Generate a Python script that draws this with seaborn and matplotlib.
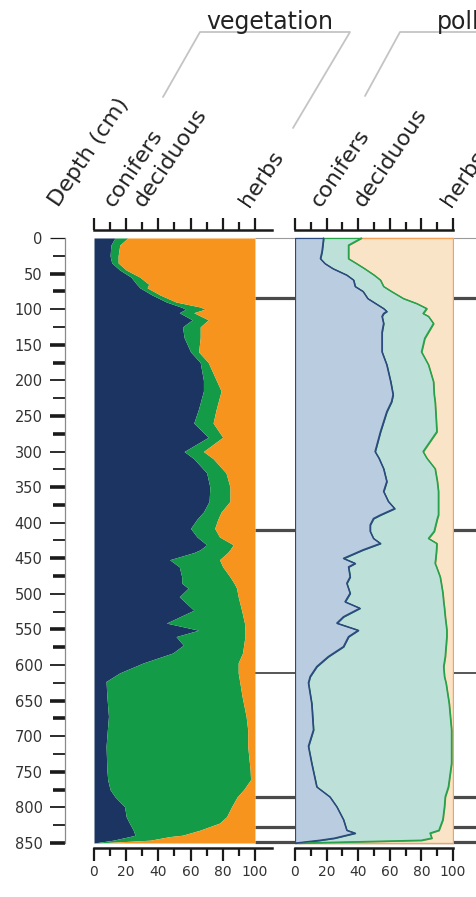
import numpy as np
import matplotlib
matplotlib.use("Agg")
import matplotlib.pyplot as plt
from matplotlib.lines import Line2D
from matplotlib.transforms import blended_transform_factory
import seaborn as sns

# ===== data (percent, depth in cm) =====
veg_depth = [0, 10, 25, 35, 45, 55, 65, 70, 80, 90, 97, 100, 105, 115, 125, 140, 160, 175,
             200, 215, 240, 260, 280, 300, 310, 330, 350, 370, 385, 395, 408, 420, 431, 438,
             442, 452, 462, 476, 485, 492, 504, 523, 541, 551, 560, 572, 583, 597, 611, 623,
             644, 672, 691, 714, 747, 761, 775, 785, 799, 813, 822, 832, 839, 841, 846, 850]
veg_conifers = [13, 10.5, 10, 11, 16, 23, 26.5, 28.5, 36, 45, 54, 57, 53, 61, 55, 56, 60, 66,
                68, 68, 65, 62, 71, 56, 62, 70, 72, 71.5, 68, 64, 60, 64, 70, 66,
                62, 47, 53, 54.5, 54.5, 58.5, 53, 62, 45, 65, 51, 55.5, 49, 30.6, 16, 7.5,
                8, 9, 8.3, 7.5, 8, 8.5, 10, 13, 19, 20, 22, 24.4, 25.5, 22, 12, 0]
veg_deciduous = [8, 5.5, 5, 4, 4, 5.5, 7.5, 4.5, 5, 6, 12, 12, 9, 10, 11, 10, 5, 5,
                 8, 11, 11, 12, 9, 12, 12, 12, 12.5, 13, 11, 13, 15, 14, 16.5, 18.5,
                 21, 31, 27, 30, 32.5, 30.1, 36.6, 29.7, 48.5, 28.8, 42.8, 37.5, 43.3, 59, 73.6, 83,
                 84, 85.5, 87.2, 88, 89, 88.8, 83, 76, 66.5, 62.4, 56, 41.4, 29.5, 25, 23, 2]

pol_depth = [0, 10, 19, 29, 36, 43, 52, 59, 68, 75, 85, 92, 99, 103, 106, 110, 120, 132, 141,
             160, 178, 202, 220, 230, 244, 272, 300, 309, 324, 342, 356, 370, 380, 389, 394,
             403, 412, 422, 429, 438, 450, 457, 462, 476, 485, 499, 511, 520, 532, 541, 551,
             560, 574, 588, 602, 616, 625, 654, 691, 714, 738, 771, 785, 799, 817, 832, 836,
             843, 846, 850]
pol_conifers = [18, 17.5, 17, 16, 19, 24, 32.7, 37, 38, 43, 46, 51, 56, 58, 56, 55, 56, 55, 55,
                55, 58, 60.5, 62, 61, 58, 54, 50.6, 53, 56, 58, 56, 59, 63, 54, 49.6,
                47.5, 47.5, 49.6, 54, 43, 30.6, 38, 33.8, 34.8, 32.7, 34.8, 31.6, 41, 30.6, 26.4, 40,
                33.8, 30.6, 21, 13.7, 9.5, 8.4, 10.5, 11.6, 8.4, 10.5, 13.7, 22, 26.4, 30.6, 32.7, 38,
                25, 15.8, 0]
pol_deciduous = [24, 16.3, 16.8, 17.8, 20, 20, 17.3, 17, 18, 18, 22.6, 26, 27.3, 24, 25, 29.4, 31.6, 29.4, 27,
                 25, 26.4, 27.1, 26, 27.6, 31, 35.7, 30.4, 30.3, 32.6, 32, 34.7, 31.7, 27.7, 36.7, 40.4,
                 41.5, 40.5, 34.8, 35.7, 46.5, 58.4, 50.6, 55.7, 57, 59.8, 58.7, 62.4, 53.5, 64.4, 69.1, 56,
                 62.2, 64.9, 74, 80.3, 85, 87.1, 87, 87.4, 90.6, 88.5, 83.3, 73, 68.1, 62.9, 58.3, 47.4,
                 61.5, 64.2, 2]

major_zones = [85, 410, 785, 828, 849]
minor_zones = [611]

taxa = ["conifers", "deciduous", "herbs"]
veg_colors = ["#1c3461", "#149b48", "#f7941d"]
pol_fill = ["#bacde0", "#bde1d9", "#f9e4c8"]
pol_edge = ["#2b4a7e", "#27a24b", "#f5a35c"]

# ===== layout helpers (pixels from top-left) =====
W, H = 477, 897
YLIM = (857.0, -11.2)


def box(x0, y0, x1, y1):
    return [x0 / W, 1 - y1 / H, (x1 - x0) / W, (y1 - y0) / H]


def style_x(ax):
    for side in ("top", "bottom"):
        ax.spines[side].set_linewidth(1.8)
        ax.spines[side].set_color("#1a1a1a")
    ax.spines["right"].set_visible(False)
    ax.set_xticks(np.arange(0, 101, 20))
    ax.set_xticks(np.arange(10, 100, 20), minor=True)
    ax.tick_params(axis="x", which="both", top=True, bottom=True, direction="out",
                   width=1.6, color="#1a1a1a", labeltop=False, labelbottom=True,
                   labelsize=10, labelcolor="#333333", pad=3)
    ax.tick_params(axis="x", which="major", length=9)
    ax.tick_params(axis="x", which="minor", length=5.5)
    ax.set_xlabel("")
    ax.set_ylabel("")


sns.set_style("white")
plt.rcParams["font.family"] = ["DejaVu Sans"]

fig = plt.figure(figsize=(W / 100, H / 100), dpi=100)

# zone boundaries drawn behind the panels
bg = fig.add_axes(box(255, 230, 477, 848))
bg.set_xlim(0, 1)
bg.set_ylim(*YLIM)
bg.axis("off")
bg.hlines([0], 0, 1, color="#9a9a9a", lw=0.8)
bg.hlines(major_zones, 0, 1, color="#4a4a4a", lw=2.3)
bg.hlines(minor_zones, 0, 1, color="#555555", lw=1.4)

# ----- vegetation panel -----
vd = np.array(veg_depth, float)
vc = np.array(veg_conifers, float)
vcum = vc + np.array(veg_deciduous, float)

ax1 = fig.add_axes(box(94, 230, 272, 848))
ax1.set_facecolor("none")
ax1.fill_betweenx(vd, 0, vc, color=veg_colors[0], lw=0)
ax1.fill_betweenx(vd, vc, vcum, color=veg_colors[1], lw=0)
ax1.fill_betweenx(vd, vcum, 100, color=veg_colors[2], lw=0)
ax1.set_xlim(0, 110.6)
ax1.set_ylim(*YLIM)
style_x(ax1)

# depth axis
ax1.spines["left"].set_position(("outward", 21))
ax1.spines["left"].set_bounds(0, 850)
ax1.spines["left"].set_color("#8a8a8a")
ax1.spines["left"].set_linewidth(0.9)
ax1.set_yticks(np.arange(0, 851, 50))
ax1.set_yticks(np.arange(25, 850, 50), minor=True)
ax1.tick_params(axis="y", which="both", left=True, direction="out", color="#1a1a1a",
                labelsize=10.5, labelcolor="#333333", pad=5)
ax1.tick_params(axis="y", which="major", length=11)
ax1.tick_params(axis="y", which="minor", length=8.5)
fig.canvas.draw()
for locs, ticks in ((ax1.yaxis.get_majorticklocs(), ax1.yaxis.get_major_ticks()),
                    (ax1.yaxis.get_minorticklocs(), ax1.yaxis.get_minor_ticks())):
    for loc, tick in zip(locs, ticks):
        thick = int(loc // 50) % 2 == 1
        tick.tick1line.set_markeredgewidth(2.6 if thick else 1.3)
        if loc == 0:
            tick.tick1line.set_color("#8a8a8a")
            tick.tick1line.set_markeredgewidth(0.9)

# ----- pollen panel -----
pd_ = np.array(pol_depth, float)
pc = np.array(pol_conifers, float)
pcum = pc + np.array(pol_deciduous, float)

ax2 = fig.add_axes(box(295, 230, 453, 848))
ax2.set_facecolor("none")
ax2.fill_betweenx(pd_, pcum, 100, facecolor=pol_fill[2], edgecolor=pol_edge[2], lw=1.0)
ax2.fill_betweenx(pd_, pc, pcum, facecolor=pol_fill[1], edgecolor=pol_edge[1], lw=0.9)
ax2.fill_betweenx(pd_, 0, pc, facecolor=pol_fill[0], edgecolor=pol_edge[0], lw=0.9)
sns.lineplot(x=pcum, y=pd_, orient="y", sort=False, estimator=None, color=pol_edge[1], lw=0.9, ax=ax2)
sns.lineplot(x=pc, y=pd_, orient="y", sort=False, estimator=None, color=pol_edge[0], lw=0.9, ax=ax2)
ax2.set_xlim(0, 100)
ax2.set_ylim(*YLIM)
ax2.spines["left"].set_visible(False)
ax2.tick_params(axis="y", left=False, labelleft=False)
style_x(ax2)

# ----- column headers -----
hdr_y = 1 - 208 / H
tr1 = blended_transform_factory(ax1.transData, fig.transFigure)
tr2 = blended_transform_factory(ax2.transData, fig.transFigure)
kw = dict(rotation=56, rotation_mode="anchor", ha="left", va="baseline", fontsize=16, color="#222222")
ax1.text(-22, hdr_y, "Depth (cm)", transform=tr1, **kw)
for name, xv in zip(taxa, [12.5, 31, 96]):
    ax1.text(xv, hdr_y, name, transform=tr1, **kw)
for name, xv in zip(taxa, [16.5, 43.5, 99]):
    ax2.text(xv, hdr_y, name, transform=tr2, **kw)

# group brackets
def bracket(points):
    xs = [p[0] / W for p in points]
    ys = [1 - p[1] / H for p in points]
    fig.add_artist(Line2D(xs, ys, transform=fig.transFigure, color="#c4c4c4", lw=1.3))


bracket([(163, 97), (200, 32), (350, 32), (293, 128)])
bracket([(365, 96), (400, 32), (530, 32)])
fig.text(270 / W, 1 - 29 / H, "vegetation", ha="center", va="baseline", fontsize=17, color="#222222")
fig.text(437 / W, 1 - 29 / H, "pollen", ha="left", va="baseline", fontsize=17, color="#222222")

fig.savefig("out.png", dpi=100)
